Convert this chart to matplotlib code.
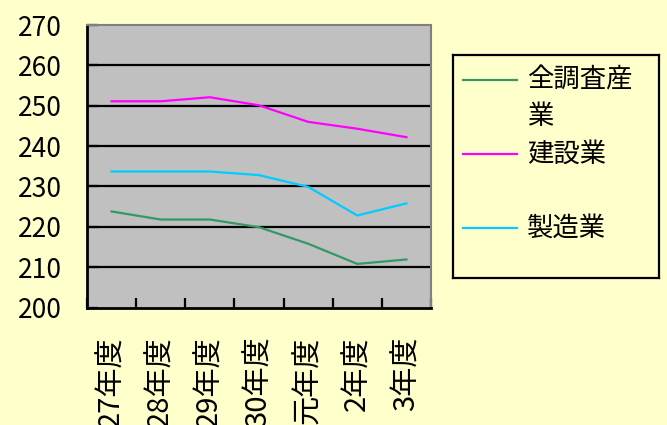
import numpy as np
import matplotlib.pyplot as plt
from matplotlib.ticker import FixedLocator

plt.rcParams['font.family'] = ['Noto Sans CJK JP', 'DejaVu Sans']

# data
years = ['27年度', '28年度', '29年度', '30年度', '元年度', '2年度', '3年度']
all_industries = [223.8, 221.8, 221.8, 219.9, 215.8, 210.8, 211.9]
construction = [251.1, 251.1, 252.1, 250.1, 246.0, 244.3, 242.2]
manufacturing = [233.7, 233.7, 233.7, 232.8, 229.9, 222.8, 225.8]

series_names = ['全調査産業', '建設業', '製造業']
series_colors = ['#339966', '#ff00ff', '#00ccff']
yticks = [200, 210, 220, 230, 240, 250, 260, 270]

BG = '#ffffcc'

fig = plt.figure(figsize=(6.67, 4.25), dpi=100, facecolor=BG)
ax = fig.add_axes([87 / 667, 117.5 / 425, 344 / 667, 282.5 / 425])
ax.set_facecolor('#c0c0c0')

x = np.arange(len(years))
all_series = [all_industries, construction, manufacturing]
for vals, name, col in zip(all_series, series_names, series_colors):
    ax.plot(x, vals, color=col, lw=1.6, label=name, zorder=3)

ax.set_xlim(-0.5, len(years) - 0.5)
ax.set_ylim(200, 270)
ax.set_yticks(yticks)
ax.set_yticklabels([str(v) for v in yticks], fontsize=19)
for v in yticks[1:-1]:
    ax.axhline(v, color='black', lw=1.6, zorder=2)

ax.set_xticks(x)
ax.set_xticklabels(years, rotation=90, fontsize=21, va='top')
ax.tick_params(axis='x', which='major', length=0, pad=21)
ax.xaxis.set_minor_locator(FixedLocator(np.arange(-0.5, len(years), 1.0)))
ax.tick_params(axis='x', which='minor', direction='in', length=7, width=1.6, color='black')
ax.tick_params(axis='y', direction='in', length=8, width=1.6, color='black', pad=18)

for side in ['left', 'bottom']:
    ax.spines[side].set_color('black')
    ax.spines[side].set_linewidth(2)
for side in ['top', 'right']:
    ax.spines[side].set_color('#808080')
    ax.spines[side].set_linewidth(1.5)

# legend box, laid out in pixel units measured from its top-left corner
lax = fig.add_axes([453 / 667, (425 - 278) / 425, 206 / 667, 223 / 425])
lax.set_facecolor(BG)
lax.set_xlim(0, 206)
lax.set_ylim(223, 0)
lax.set_xticks([])
lax.set_yticks([])
for s in lax.spines.values():
    s.set_color('black')
    s.set_linewidth(1.6)

row_y = [25, 99, 173]
for name, col, yy in zip(series_names, series_colors, row_y):
    lax.plot([10, 64], [yy, yy], color=col, lw=1.6)
    # wrap long names at four characters, like the original legend
    lines = [name[i:i + 4] for i in range(0, len(name), 4)]
    for j, ln in enumerate(lines):
        lax.text(74, yy + j * 36, ln, fontsize=19, va='center', ha='left')

fig.savefig('out.png', dpi=100, facecolor=BG)
